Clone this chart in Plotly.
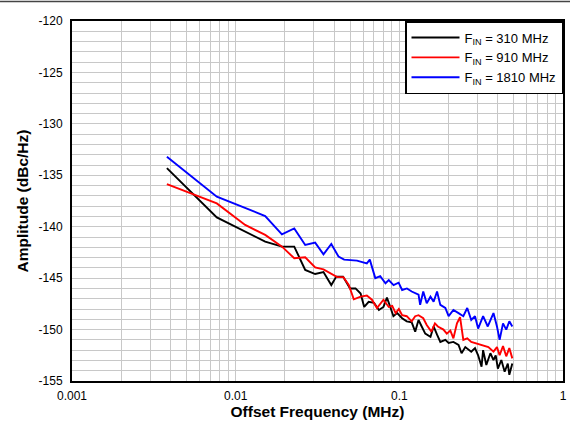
import plotly.graph_objects as go

# Offset frequency (MHz) and amplitude (dBc/Hz) per series
f_310 = [0.0038, 0.00767, 0.01515, 0.0192, 0.0228, 0.0266, 0.0306, 0.0344, 0.0384, 0.0412,
         0.0453, 0.050, 0.054, 0.058, 0.061, 0.065, 0.070, 0.075, 0.080, 0.084,
         0.088, 0.092, 0.097, 0.104, 0.111, 0.119, 0.125, 0.131, 0.137, 0.144,
         0.155, 0.162, 0.170, 0.178, 0.191, 0.200, 0.214, 0.230, 0.240, 0.253,
         0.275, 0.290, 0.303, 0.318, 0.325, 0.340, 0.360, 0.376, 0.388, 0.400,
         0.420, 0.440, 0.460, 0.470, 0.490]
a_310 = [-134.3, -139.1, -141.45, -141.94, -141.94, -144.2, -144.6, -144.4, -145.67, -144.85,
         -144.85, -146.0, -146.0, -146.5, -147.8, -147.3, -147.4, -148.1, -147.8, -146.9,
         -147.8, -148.7, -148.4, -148.9, -149.2, -149.3, -150.2, -149.07, -149.7, -150.4,
         -150.7, -149.7, -150.5, -151.2, -151.0, -151.3, -151.2, -151.5, -152.3, -151.7,
         -152.15, -151.8, -152.5, -153.6, -152.0, -153.45, -152.3, -152.96, -152.5, -153.8,
         -152.96, -154.1, -153.3, -154.4, -153.3]

f_910 = [0.0038, 0.00767, 0.01143, 0.01515, 0.0192, 0.0228, 0.0266, 0.0306, 0.0344, 0.0378,
         0.0417, 0.0455, 0.0491, 0.0527, 0.058, 0.0633, 0.068, 0.073, 0.080, 0.0862,
         0.0905, 0.0949, 0.0993, 0.104, 0.111, 0.119, 0.125, 0.131, 0.140, 0.147,
         0.157, 0.165, 0.172, 0.186, 0.195, 0.205, 0.214, 0.225, 0.235, 0.246,
         0.260, 0.275, 0.290, 0.310, 0.330, 0.350, 0.376, 0.395, 0.410, 0.430,
         0.450, 0.470, 0.490]
a_910 = [-135.85, -137.73, -139.83, -140.8, -141.94, -143.07, -142.97, -143.95, -144.15, -144.53,
         -144.9, -144.9, -145.67, -147.06, -146.8, -146.7, -147.1, -147.9, -147.1, -147.8,
         -147.7, -148.4, -148.0, -148.6, -148.7, -149.2, -148.7, -148.6, -148.9, -149.55,
         -150.2, -149.4, -149.7, -150.0, -150.4, -150.1, -150.85, -149.4, -148.8, -151.0,
         -150.85, -151.2, -151.3, -151.5, -151.6, -151.7, -152.15, -151.7, -152.5, -151.6,
         -152.6, -151.8, -152.8]

f_1810 = [0.0038, 0.00767, 0.01515, 0.01917, 0.0228, 0.0266, 0.0306, 0.0344, 0.0384, 0.0425,
          0.046, 0.0551, 0.0633, 0.066, 0.0713, 0.0764, 0.0823, 0.0862, 0.0922, 0.099,
          0.104, 0.1113, 0.119, 0.131, 0.134, 0.140, 0.147, 0.155, 0.162, 0.170,
          0.178, 0.191, 0.200, 0.214, 0.230, 0.246, 0.260, 0.275, 0.290, 0.303,
          0.325, 0.347, 0.376, 0.395, 0.410, 0.430, 0.450, 0.470, 0.490]
a_1810 = [-133.2, -137.08, -138.96, -140.74, -140.16, -141.78, -141.55, -142.68, -141.68, -142.9,
          -143.2, -143.3, -143.56, -143.2, -145.0, -144.8, -145.5, -145.18, -145.67, -145.44,
          -146.15, -146.0, -146.3, -146.6, -147.6, -146.3, -147.45, -146.8, -147.3, -146.3,
          -147.6, -147.9, -148.7, -148.1, -148.4, -148.7, -147.9, -149.07, -148.7, -149.9,
          -148.7, -149.7, -148.4, -149.7, -151.0, -149.4, -150.0, -149.2, -149.7]

series_names = ["F<sub>IN</sub> = 310 MHz", "F<sub>IN</sub> = 910 MHz", "F<sub>IN</sub> = 1810 MHz"]
series_colors = ["#000000", "#ff0000", "#0000ff"]

x_decades = [0.001, 0.01, 0.1, 1]
x_decade_labels = ["0.001", "0.01", "0.1", "1"]
y_ticks = [-120, -125, -130, -135, -140, -145, -150, -155]
y_tick_labels = ["-120", "-125", "-130", "-135", "-140", "-145", "-150", "-155"]

fig = go.Figure()
for xs, ys, name, col in zip([f_310, f_910, f_1810], [a_310, a_910, a_1810], series_names, series_colors):
    fig.add_trace(go.Scatter(x=xs, y=ys, mode="lines", name=name,
                             line=dict(color=col, width=1.9)))

# log grid: every 1..9 multiple of each decade; labels only on decades
x_tickvals = []
x_ticktext = []
for i, d in enumerate(x_decades):
    x_tickvals.append(d)
    x_ticktext.append(x_decade_labels[i])
    if d < 1:
        for m in range(2, 10):
            x_tickvals.append(round(m * d, 6))
            x_ticktext.append("")

grid_col = "#c8c8c8"
clear = "rgba(0,0,0,0)"

fig.update_layout(
    width=570, height=421,
    margin=dict(l=72, r=7, t=21, b=40),
    paper_bgcolor="white", plot_bgcolor="white",
    font=dict(family="Liberation Sans, Arial, sans-serif", size=12, color="black"),
    showlegend=True,
    legend=dict(x=1, y=1, xanchor="right", yanchor="top",
                bgcolor="white", bordercolor="black", borderwidth=1.5,
                font=dict(size=13), tracegroupgap=0, itemwidth=48),
    xaxis=dict(type="log", range=[-3, 0], tickmode="array",
               tickvals=x_tickvals, ticktext=x_ticktext,
               showgrid=True, gridcolor=grid_col, gridwidth=1,
               showline=True, linecolor="black", linewidth=2, mirror=True,
               ticks="outside", ticklen=3, tickcolor=clear, zeroline=False, automargin=False,
               title=dict(text="<b>Offset Frequency (MHz)</b>", font=dict(size=15.5), standoff=2)),
    yaxis=dict(range=[-155, -120], tickmode="array", tickvals=y_ticks, ticktext=y_tick_labels,
               showgrid=True, gridcolor=grid_col, gridwidth=1,
               minor=dict(dtick=1, showgrid=True, gridcolor=grid_col, gridwidth=1),
               showline=True, linecolor="black", linewidth=2, mirror=True,
               ticks="outside", ticklen=5, tickcolor=clear, zeroline=False, automargin=False,
               title=dict(text="<b>Amplitude (dBc/Hz)</b>", font=dict(size=15.5), standoff=6)),
)

# thin page rule along the top edge of the image
fig.add_shape(type="line", xref="paper", yref="paper",
              x0=-0.1466, x1=1.0143, y0=1.0542, y1=1.0542,
              line=dict(color="#444444", width=1.5), layer="above")

fig.write_html("out.html", config={"displayModeBar": False},
               post_script="document.body.style.margin='0px';")
